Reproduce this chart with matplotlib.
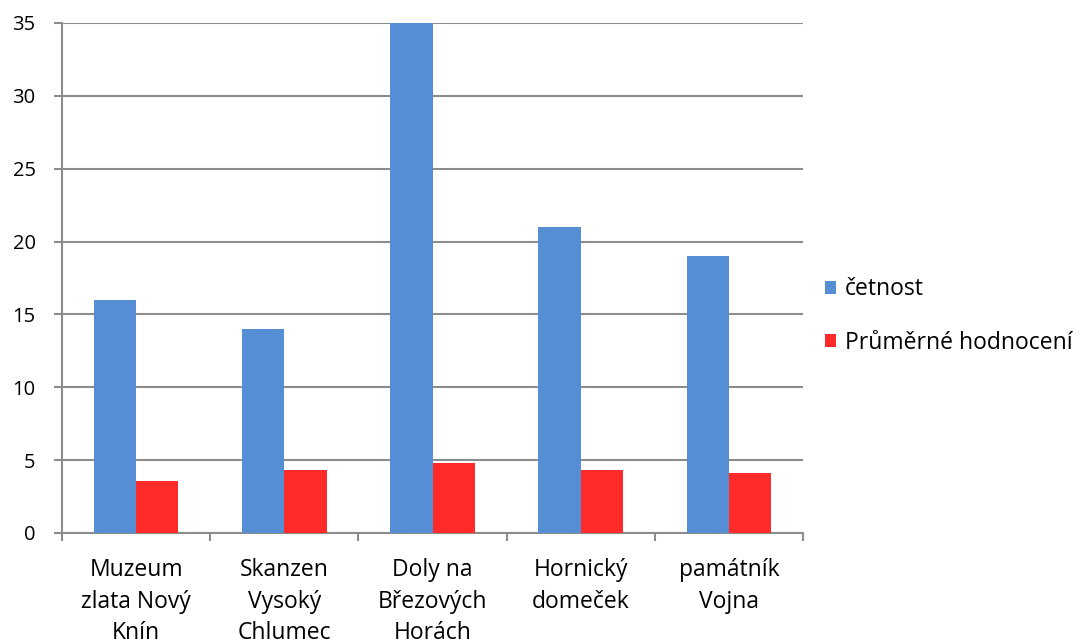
import matplotlib
matplotlib.use("Agg")
import matplotlib.pyplot as plt
import numpy as np

categories = ["Muzeum\nzlata Nový\nKnín", "Skanzen\nVysoký\nChlumec", "Doly na\nBřezových\nHorách",
              "Hornický\ndomeček", "památník\nVojna"]
cetnost = [16, 14, 35, 21, 19]
hodnoceni = [3.58, 4.29, 4.79, 4.29, 4.10]
series_names = ["četnost", "Průměrné hodnocení"]
yticks = [0, 5, 10, 15, 20, 25, 30, 35]

plt.rcParams['font.family'] = ['Open Sans', 'DejaVu Sans']
fig = plt.figure(figsize=(10.8, 6.44), dpi=100)
ax = fig.add_axes([62/1080, 1-533/644, (803-62)/1080, (533-23)/644])

x = np.arange(len(categories))
w = 1/3.5
grid_c = '#8c8c8c'
ax.bar(x - w/2, cetnost, width=w, color='#558ED5', label=series_names[0], zorder=3)
ax.bar(x + w/2, hodnoceni, width=w, color='#FF2A2A', label=series_names[1], zorder=3)

ax.set_xlim(-0.5, len(categories)-0.5)
ax.set_ylim(0, 35)
ax.set_yticks(yticks)
ax.set_yticklabels([str(v) for v in yticks], fontsize=14.5)
ax.yaxis.grid(True, color=grid_c, linewidth=1.5, zorder=0)
ax.set_xticks(np.arange(-0.5, len(categories)), minor=False)
ax.set_xticklabels([])
ax.set_xticks(x, minor=True)
ax.set_xticklabels(categories, minor=True, fontsize=16.5, linespacing=1.43)
ax.tick_params(axis='x', which='minor', length=0, pad=18)
ax.tick_params(axis='x', which='major', length=6, color=grid_c, width=1.5)
ax.tick_params(axis='y', length=6, color=grid_c, width=1.5, pad=13)
for s in ['top', 'right']:
    ax.spines[s].set_visible(False)
for s in ['left', 'bottom']:
    ax.spines[s].set_color(grid_c)
    ax.spines[s].set_linewidth(1.5)

leg = ax.legend(loc='center left', bbox_to_anchor=(804/1080, 1-316/644), bbox_transform=fig.transFigure,
                frameon=False, fontsize=16.5, handlelength=0.5, handleheight=0.5,
                handletextpad=0.4, labelspacing=1.27)

fig.savefig("out.png", dpi=100)
